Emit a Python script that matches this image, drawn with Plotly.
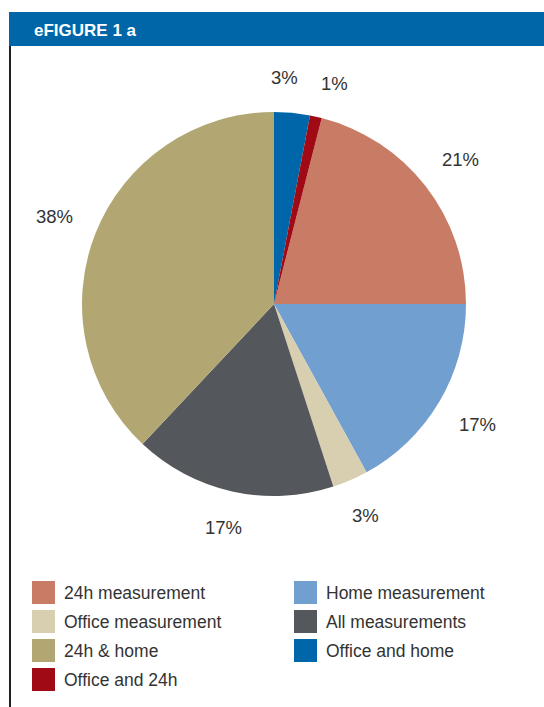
import math
import plotly.graph_objects as go

# ---- data ----
labels = ["24h measurement", "Home measurement", "Office measurement",
          "All measurements", "24h & home", "Office and home", "Office and 24h"]
values = [21, 17, 3, 17, 38, 3, 1]
pct_text = ["21%", "17%", "3%", "17%", "38%", "3%", "1%"]
colors = ["#C97C65", "#709FD0", "#D8CFB0", "#54575B", "#B2A772", "#0066AA", "#A00A14"]
title_text = "eFIGURE 1 a"

# ---- layout constants (pixels) ----
W, H = 544, 707
CX, CY, R = 274, 304, 192
GAP = 25
MIN_SEP = 50
FS = 17.5            # legend text size
PCT_FS = 18.5        # percentage label size
FONT = "Liberation Sans, Arial, sans-serif"
TXT = "#333333"

def px(x):
    return x / W

def py(y):
    return 1 - y / H

total = sum(values)
rotation = 360.0 * (values[-2] + values[-1]) / total

fig = go.Figure()
fig.add_trace(go.Pie(
    labels=labels, values=values, sort=False, direction="clockwise",
    rotation=rotation, marker=dict(colors=colors, line=dict(width=0)),
    textinfo="none", hoverinfo="label+percent", showlegend=False,
    domain=dict(x=[px(CX - R), px(CX + R)], y=[py(CY + R), py(CY - R)]),
))

annotations = []
shapes = []

# ---- percentage labels: outside-end placement derived from the data ----
def text_half_w(t):
    w = 0.0
    for ch in t:
        w += 0.889 if ch == "%" else 0.556
    return w * 17.5 / 2.0

mids = []
cum = 0.0
for v in values:
    mids.append(rotation + 360.0 * (cum + v / 2.0) / total)
    cum += v

def place(theta_deg, t):
    th = math.radians(theta_deg)
    ext = text_half_w(t) * abs(math.sin(th)) + 8.75 * abs(math.cos(th))
    d = R + GAP + ext
    return CX + d * math.sin(th), CY - d * math.cos(th)

# simple collision avoidance between neighbouring labels
angles = list(mids)
n = len(angles)
for _ in range(20):
    moved = False
    for i in range(n):
        j = (i + 1) % n
        xi, yi = place(angles[i], pct_text[i])
        xj, yj = place(angles[j], pct_text[j])
        dist = math.hypot(xi - xj, yi - yj)
        if dist < MIN_SEP:
            step = math.degrees((MIN_SEP - dist) / (R + GAP + 15)) / 2.0 + 0.2
            angles[i] -= step
            angles[j] += step
            moved = True
    if not moved:
        break

for a, t in zip(angles, pct_text):
    x, y = place(a, t)
    annotations.append(dict(x=px(x), y=py(y), xref="paper", yref="paper",
                            text=t, showarrow=False, xanchor="center", yanchor="middle",
                            font=dict(family=FONT, size=PCT_FS, color=TXT)))

# ---- header bar and frame ----
shapes.append(dict(type="rect", xref="paper", yref="paper",
                   x0=px(9), x1=1, y0=py(46), y1=py(12),
                   fillcolor="#0066A8", line=dict(width=0), layer="below"))
shapes.append(dict(type="line", xref="paper", yref="paper",
                   x0=px(10), x1=px(10), y0=py(46), y1=0,
                   line=dict(color="#231F20", width=2)))
annotations.append(dict(x=px(32), y=py(30), xref="paper", yref="paper",
                        text="<b>" + title_text + "</b>", showarrow=False,
                        xanchor="left", yanchor="middle",
                        font=dict(family=FONT, size=17, color="white")))

# ---- legend (two columns) ----
col_x = [32, 294]
row_y0 = 581
row_h = 29
sq = 23
for i, (lab, c) in enumerate(zip(labels, colors)):
    col = i % 2
    row = i // 2
    x0 = col_x[col]
    y0 = row_y0 + row * row_h
    shapes.append(dict(type="rect", xref="paper", yref="paper",
                       x0=px(x0), x1=px(x0 + sq), y0=py(y0 + sq), y1=py(y0),
                       fillcolor=c, line=dict(width=0)))
    annotations.append(dict(x=px(x0 + sq + 7), y=py(y0 + sq / 2), xref="paper", yref="paper",
                            text=lab, showarrow=False, xanchor="left", yanchor="middle",
                            font=dict(family=FONT, size=FS, color=TXT)))

fig.update_layout(
    width=W, height=H, margin=dict(l=0, r=0, t=0, b=0),
    paper_bgcolor="white", plot_bgcolor="white",
    shapes=shapes, annotations=annotations, showlegend=False,
)

fig.write_html("out.html")
